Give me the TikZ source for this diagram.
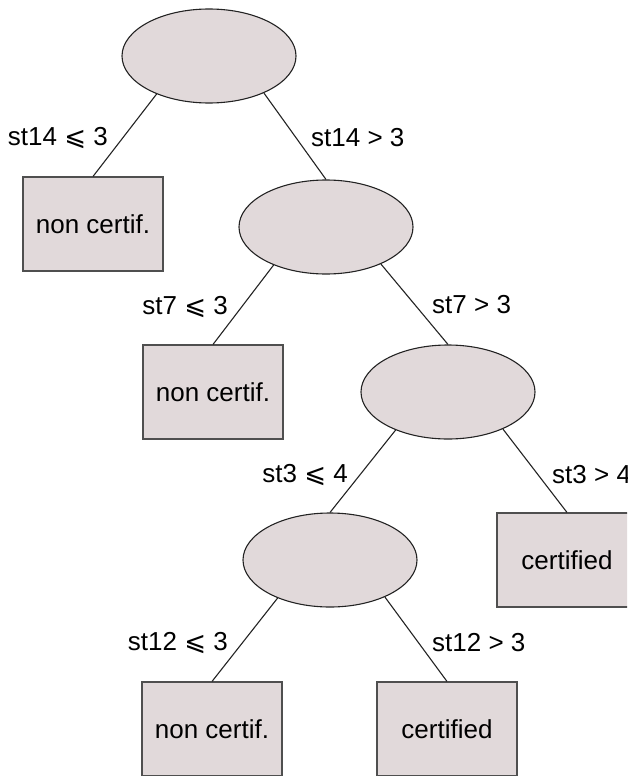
\documentclass[tikz,border=0pt]{standalone}
\usepackage{fontspec}
\setmainfont{Liberation Sans}
\newfontfamily\symfont{DejaVu Sans}
\usetikzlibrary{shapes.geometric}
\definecolor{nodefill}{RGB}{225,217,218}
\definecolor{edgecol}{RGB}{35,35,35}
\newcommand{\lesl}{{\symfont\char"2A7D}}
\tikzset{
  split/.style={ellipse, draw=edgecol, fill=nodefill, line width=1.1pt,
    minimum width=174pt, minimum height=94pt, inner sep=0pt},
  leaf/.style={rectangle, draw=edgecol!80, fill=nodefill, line width=1.1pt,
    minimum width=140pt, minimum height=94pt, inner sep=0pt,
    font=\fontsize{26}{30}\selectfont},
  cond/.style={inner sep=0pt, font=\fontsize{26}{30}\selectfont},
  branch/.style={draw=edgecol, line width=1.1pt}
}
\begin{document}
\begin{tikzpicture}[x=1pt,y=-1pt]
\useasboundingbox (0,0) rectangle (627,776);
\clip (0,0) rectangle (627,776);
% splitting nodes
\node[split] (r)  at (209,56)  {};
\node[split] (s1) at (326,227) {};
\node[split] (s2) at (448,392) {};
\node[split] (s3) at (330,560) {};
% leaves
\node[leaf] (l1) at (93,224)  {non certif.};
\node[leaf] (l2) at (213,392) {non certif.};
\node[leaf] (l3) at (567,560) {certified};
\node[leaf] (l4) at (212,729) {non certif.};
\node[leaf] (l5) at (447,729) {certified};
% branches
\draw[branch] (r.216)  -- (l1.north);
\draw[branch] (r.326)  -- (s1.north);
\draw[branch] (s1.216) -- (l2.north);
\draw[branch] (s1.326) -- (s2.north);
\draw[branch] (s2.216) -- (s3.north);
\draw[branch] (s2.326) -- (l3.north);
\draw[branch] (s3.216) -- (l4.north);
\draw[branch] (s3.326) -- (l5.north);
% branch conditions
\node[cond, anchor=east] (c1) at (108,138) {st14 \lesl\ 3};
\node[cond, anchor=west] (c2) at (311,138) {st14 > 3};
\node[cond, anchor=east] (c3) at (228,307) {st7 \lesl\ 3};
\node[cond, anchor=west] (c4) at (432,305) {st7 > 3};
\node[cond, anchor=east] (c5) at (348,475) {st3 \lesl\ 4};
\node[cond, anchor=west] (c6) at (552,475) {st3 > 4};
\node[cond, anchor=east] (c7) at (228,643) {st12 \lesl\ 3};
\node[cond, anchor=west] (c8) at (432,643) {st12 > 3};
\end{tikzpicture}
\end{document}
